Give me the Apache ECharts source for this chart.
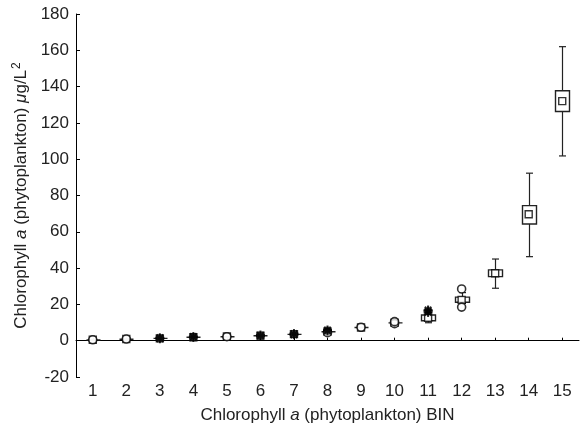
<!DOCTYPE html>
<html>
<head>
<meta charset="utf-8">
<script src="https://cdn.jsdelivr.net/npm/echarts@6/dist/echarts.min.js"></script>
<style>html,body{margin:0;padding:0;background:#fff}#c{width:580px;height:431px}</style>
</head>
<body>
<div id="c"></div>
<script>
var categories = ['1','2','3','4','5','6','7','8','9','10','11','12','13','14','15'];
var whiskerLow  = [0.4, 0.8, 1.3, 1.9, 2.2, 2.7, 3.5, 4.9, 7.3, 9.8, 9.9, 20.5, 28.9, 46.3, 101.8];
var boxLow      = [0.4, 0.8, 1.3, 1.9, 2.2, 2.7, 3.5, 4.9, 7.3, 9.8, 11.0, 21.2, 35.3, 64.3, 126.3];
var boxHigh     = [0.4, 0.8, 1.3, 1.9, 2.2, 2.7, 3.5, 4.9, 7.3, 9.8, 14.2, 24.0, 39.0, 74.4, 137.7];
var whiskerHigh = [0.4, 0.8, 1.3, 1.9, 2.2, 2.7, 3.5, 4.9, 7.3, 9.8, 15.5, 26.5, 45.0, 92.3, 162.0];
var means       = [0.5, 0.9, 1.3, 1.9, 2.3, 2.8, 3.6, 5.0, 7.3, 9.9, 12.6, 22.5, 37.2, 69.7, 132.0];
var outlierBins   = ['1','2','5','8','9','10','10','12','12'];
var outlierValues = [0.5, 0.9, 2.2, 4.4, 7.4, 9.4, 10.5, 28.5, 18.5];
var extremeBins   = ['3','3','4','4','6','6','7','7','8','8','11','11','11'];
var extremeValues = [1.1, 1.6, 1.7, 2.3, 2.5, 3.1, 3.3, 3.9, 5.3, 5.9, 15.6, 16.3, 16.9];

var boxData = categories.map(function (c, i) {
  return [i, whiskerLow[i], boxLow[i], boxHigh[i], whiskerHigh[i]];
});
var meanData = categories.map(function (c, i) { return [c, means[i]]; });
var outData = outlierBins.map(function (c, i) { return [c, outlierValues[i]]; });
var extData = extremeBins.map(function (c, i) { return [c, extremeValues[i]]; });

var lineCol = '#222';
var chart = echarts.init(document.getElementById('c'), null, {renderer: 'canvas'});
var font = '"Liberation Sans", Arial, sans-serif';
chart.setOption({
  animation: false,
  backgroundColor: '#fff',
  grid: {left: 76, right: 1, top: 14, bottom: 54, containLabel: false},
  xAxis: {
    type: 'category',
    data: categories,
    boundaryGap: true,
    name: 'Chlorophyll {i|a} (phytoplankton) BIN',
    nameLocation: 'middle',
    nameGap: 30,
    nameTextStyle: {fontFamily: font, fontSize: 17, color: '#222',
      rich: {i: {fontFamily: font, fontSize: 17, fontStyle: 'italic', color: '#222'}}},
    axisLine: {lineStyle: {color: '#000', width: 1}},
    axisTick: {show: true, inside: true, alignWithLabel: true, length: 3, lineStyle: {color: '#000'}},
    axisLabel: {fontFamily: font, fontSize: 17, color: '#222', margin: 6},
    splitLine: {show: false}
  },
  yAxis: {
    type: 'value',
    min: -20, max: 180, interval: 20,
    name: 'Chlorophyll {i|a} (phytoplankton) {i|μ}g/L{s|2}',
    nameLocation: 'middle',
    nameGap: 42,
    nameTextStyle: {fontFamily: font, fontSize: 17, color: '#222',
      rich: {
        i: {fontFamily: font, fontSize: 17, fontStyle: 'italic', color: '#222'},
        s: {fontFamily: font, fontSize: 12, color: '#222', padding: [0, 0, 10, 1]}
      }},
    axisLine: {show: true, lineStyle: {color: '#000', width: 1}},
    axisTick: {show: true, inside: true, length: 4, lineStyle: {color: '#000'}},
    axisLabel: {fontFamily: font, fontSize: 17, color: '#222', margin: 7},
    splitLine: {show: false}
  },
  series: [
    {
      type: 'custom',
      data: boxData,
      z: 2,
      renderItem: function (params, api) {
        var x = api.value(0);
        var pLo = api.coord([x, api.value(1)]);
        var pQ1 = api.coord([x, api.value(2)]);
        var pQ3 = api.coord([x, api.value(3)]);
        var pHi = api.coord([x, api.value(4)]);
        var cx = Math.round(pLo[0]) + 0.5;
        var hb = 7, hc = 3.5;
        var st = {stroke: lineCol, lineWidth: 1.2, fill: null};
        return {
          type: 'group',
          children: [
            {type: 'line', shape: {x1: cx, y1: pLo[1], x2: cx, y2: pQ1[1]}, style: st},
            {type: 'line', shape: {x1: cx, y1: pQ3[1], x2: cx, y2: pHi[1]}, style: st},
            {type: 'line', shape: {x1: cx - hc, y1: pLo[1], x2: cx + hc, y2: pLo[1]}, style: st},
            {type: 'line', shape: {x1: cx - hc, y1: pHi[1], x2: cx + hc, y2: pHi[1]}, style: st},
            {type: 'rect', shape: {x: cx - hb, y: pQ3[1], width: 2 * hb, height: Math.max(pQ1[1] - pQ3[1], 0)},
             style: {stroke: lineCol, lineWidth: 1.4, fill: '#fff'}}
          ]
        };
      }
    },
    {
      type: 'scatter',
      data: meanData,
      symbol: 'rect',
      symbolSize: 7,
      z: 3,
      itemStyle: {color: '#fff', borderColor: '#000', borderWidth: 1.4}
    },
    {
      type: 'scatter',
      data: outData,
      symbol: 'circle',
      symbolSize: 8,
      z: 4,
      itemStyle: {color: '#fff', borderColor: '#000', borderWidth: 1.6}
    },
    {
      type: 'scatter',
      data: extData,
      symbol: 'path://M0,-5L0,5M-5,0L5,0M-3.6,-3.6L3.6,3.6M-3.6,3.6L3.6,-3.6',
      symbolSize: 9,
      z: 5,
      itemStyle: {color: 'none', borderColor: '#000', borderWidth: 2}
    }
  ]
});
</script>
</body>
</html>
